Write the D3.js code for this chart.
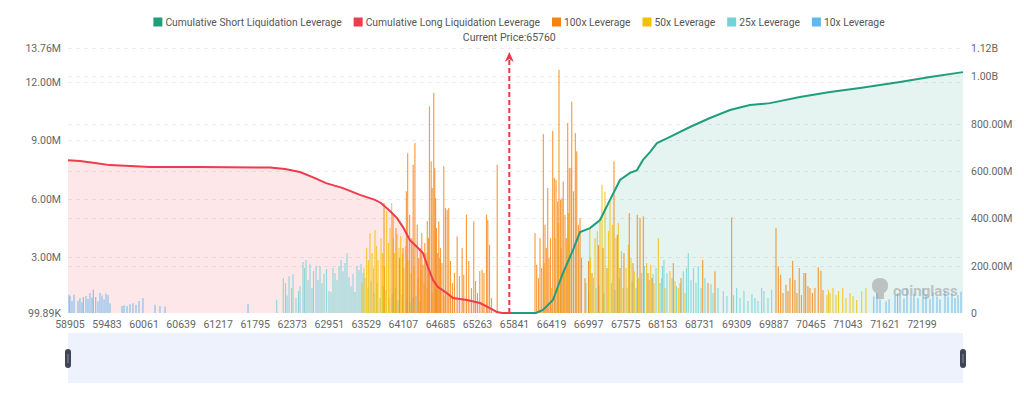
<!DOCTYPE html>
<html><head><meta charset="utf-8">
<script src="https://cdn.jsdelivr.net/npm/d3@7/dist/d3.min.js"></script>
<style>body{margin:0;background:#fff;}svg{display:block;font-family:Roboto,"Noto Sans",sans-serif;}</style>
</head><body><svg id="chart" width="1024" height="401"></svg>
<script>
// ---------- DATA ----------
const xTickLabels = [58905,59483,60061,60639,61217,61795,62373,62951,63529,64107,64685,65263,65841,66419,66997,67575,68153,68731,69309,69887,70465,71043,71621,72199];
const priceDomain = [58874, 72839];
const currentPrice = 65760;
const leftTicks = [3, 6, 9, 12];          // millions
const leftMin = 0.09989, leftMax = 13.76; // millions
const rightTicks = [0, 200, 400, 600, 800, 1000]; // millions
const rightMax = 1120;
const seriesNames = ["Cumulative Short Liquidation Leverage","Cumulative Long Liquidation Leverage","100x Leverage","50x Leverage","25x Leverage","10x Leverage"];
const seriesColors = ["#1f9e7d","#ef3b4c","#f5830f","#f5c000","#72d3d6","#66b6ee"];

// bars: [price, value in millions]
const lev10x = [[58890,0.94],[58905,0.87],[58936,0.62],[58968,0.95],[59030,0.63],[59061,0.77],[59092,0.55],[59113,0.82],[59155,0.87],[59186,0.72],[59217,1.03],[59248,0.80],[59269,1.2],[59306,0.82],[59342,0.6],[59373,1.03],[59404,0.90],[59436,0.7],[59467,1.0],[59498,0.92],[59529,0.5],[59717,0.36],[59748,0.40],[59795,0.36],[59841,0.45],[59888,0.5],[59935,0.42],[59982,0.62],[60044,0.77],[60232,0.42],[60309,0.36],[60388,0.33],[61683,0.46],
 [71446,0.85],[71497,1.03],[71544,0.7],[71638,0.6],[71685,0.7],[71778,0.92],[71818,1.0],[71856,1.2],[71918,0.75],[71965,1.29],[72027,0.87],[72074,1.0],[72137,0.77],[72215,1.29],[72262,0.95],[72324,0.72],[72371,1.05],[72433,0.85],[72480,0.7],[72558,1.13],[72605,0.85],[72667,1.0],[72714,0.77],[72761,0.92],[72808,1.1]];
const lev25x = [[62130,0.68],[62233,1.80],[62268,1.54],[62291,0.9],[62323,1.9],[62362,1.29],[62385,2.0],[62432,0.77],[62471,1.13],[62494,1.39],[62541,2.63],[62564,2.32],[62588,2.73],[62619,1.70],[62650,2.52],[62681,1.29],[62705,2.16],[62744,2.42],[62775,1.70],[62806,2.42],[62837,1.54],[62868,2.01],[62907,2.27],[62946,1.13],[62978,1.08],[63009,2.32],[63040,2.06],[63071,1.70],[63103,2.42],[63134,2.73],[63165,2.16],[63196,2.57],[63227,3.09],[63259,1.85],[63290,1.39],[63321,2.01],[63352,1.08],[63383,2.42],[63415,2.21],[63446,2.52],[63477,2.06],[63508,1.80],[63555,1.29],[63602,1.65],[63649,1.03],[63696,1.54],[63742,0.77],[63789,1.39],[63836,1.18],[63883,0.82],[63930,0.97],[63977,1.29],[64024,0.67],[64086,0.92],[64148,0.77],[64210,0.51],[64257,0.8],[64304,0.9],[64366,0.6],
 [66956,1.54],[67003,1.03],[67112,1.29],[67159,1.44],[67237,1.03],[67354,1.54],[67409,1.18],[67471,1.8],[67596,1.29],[67674,1.65],[67737,1.29],[67822,2.06],[67869,2.42],[67945,1.70],[68002,2.01],[68049,2.32],[68111,1.54],[68150,2.42],[68173,2.73],[68220,2.06],[68298,1.8],[68368,1.39],[68423,1.54],[68475,2.15],[68525,2.32],[68553,3.09],[68594,1.70],[68634,2.32],[68673,1.54],[68709,2.42],[68751,1.29],[68813,1.8],[68907,1.49],[68938,1.03],[69016,1.29],[69099,1.13],[69156,0.87],[69258,0.92],[69307,1.29],[69359,0.77],[69421,1.13],[69484,0.62],[69546,0.97],[69593,0.77],[69640,0.62],[69697,1.29],[69733,1.13],[69796,0.77],[69853,1.2]];
const lev50x = [[63461,1.54],[63492,2.32],[63534,3.35],[63562,2.73],[63586,4.12],[63617,3.09],[63640,2.32],[63664,4.28],[63688,3.45],[63711,2.73],[63758,3.86],[63781,3.09],[63812,2.42],[63846,5.25],[63874,3.61],[63898,4.38],[63924,5.67],[63952,3.86],[63969,3.09],[64008,4.07],[64039,3.35],[64065,3.97],[64093,3.04],[64117,2.32],[64140,3.45],[64179,2.73],[64226,2.06],[64273,2.42],[64335,1.80],[64382,2.21],[64428,1.54],[64475,1.29],[64553,1.03],[64631,1.18],[64740,0.87],
 [66305,2.57],[66418,1.29],[66477,3.86],[66524,4.64],[66571,3.35],[66618,2.32],[66684,5.15],[67015,4.38],[67024,2.83],[67074,1.8],[67097,3.86],[67133,4.21],[67175,4.72],[67206,6.61],[67253,6.27],[67308,4.22],[67331,5.75],[67367,4.55],[67424,3.86],[67461,4.64],[67510,3.19],[67534,1.29],[67581,2.32],[67617,3.52],[67659,2.83],[67711,2.15],[67776,1.8],[67903,2.57],[67966,2.49],[68018,1.54],[68085,3.86],[68135,1.8],[68189,1.29],[68267,2.16],[68345,1.65],[68397,1.29],[68501,1.03],
 [70716,0.92],[70740,1.18],[70763,1.03],[70810,1.29],[70857,0.92],[70896,1.13],[70962,1.29],[71013,0.77],[71076,1.03],[71123,0.87],[71180,0.67],[71258,1.12],[71325,1.29]];
const lev100x = [[63805,5.67],[63945,5.06],[63992,4.38],[64047,2.83],[64101,3.35],[64153,6.27],[64174,8.24],[64205,5.06],[64237,3.86],[64260,7.64],[64287,8.76],[64323,4.55],[64346,2.83],[64371,3.35],[64394,4.12],[64413,2.49],[64441,3.61],[64457,3.09],[64480,4.74],[64498,3.86],[64514,10.65],[64541,7.82],[64556,6.44],[64581,11.34],[64597,7.47],[64610,5.92],[64623,4.38],[64643,3.09],[64659,4.72],[64675,2.83],[64686,3.35],[64709,2.57],[64737,7.56],[64764,5.41],[64790,5.32],[64815,5.41],[64842,2.68],[64873,1.54],[64904,2.06],[64946,3.95],[64982,1.9],[65024,3.35],[65049,1.97],[65091,5.06],[65127,2.68],[65169,1.29],[65205,4.72],[65232,1.65],[65263,1.03],[65299,2.16],[65336,2.23],[65365,2.06],[65404,5.06],[65424,4.8],[65451,3.52],[65482,0.77],[65571,7.64],
 [66161,4.12],[66187,2.49],[66215,1.8],[66239,3.86],[66265,2.32],[66291,9.22],[66317,4.55],[66337,3.35],[66359,6.44],[66379,2.83],[66403,3.86],[66437,9.39],[66462,6.96],[66489,6.87],[66515,5.75],[66535,12.54],[66559,5.84],[66582,5.92],[66602,6.78],[66629,5.06],[66649,3.86],[66671,9.79],[66696,7.47],[66723,7.47],[66734,10.9],[66762,6.27],[66790,9.28],[66812,8.33],[66837,4.55],[66863,4.89],[66886,2.83],[66941,1.8],[66996,2.68],[67050,2.06],[67152,3.5],[67222,3.35],[67284,2.32],[67393,7.82],[67445,4.03],[67487,2.32],[67549,3.09],[67632,5.15],[67690,2.57],[67757,5.06],[67799,4.89],[67851,4.98],[67924,2.06],[67987,1.8],[68319,2.57],[68439,1.8],[68777,2.74],[68860,1.54],[68969,2.15],[69229,4.93],
 [69921,4.38],[69957,2.4],[69994,1.97],[70030,1.03],[70077,1.46],[70108,1.13],[70139,1.8],[70181,2.69],[70217,1.71],[70248,1.03],[70284,2.32],[70318,0.92],[70357,2.06],[70384,2.06],[70420,1.39],[70451,1.29],[70490,1.03],[70529,1.29],[70581,2.35],[70623,2.18],[70654,1.18]];

// cumulative lines: [price, value in millions]
const cumLong = [[58874,646],[59061,642],[59295,634],[59529,625],[59841,621],[60153,617],[60934,617],[62026,615],[62260,609],[62494,596],[62728,570],[62900,549],[63165,528],[63430,499],[63664,478],[63758,465],[63898,431],[64008,401],[64101,363],[64210,308],[64320,279],[64413,253],[64491,194],[64569,139],[64647,110],[64787,84],[64881,63],[65100,55],[65302,42],[65458,21],[65568,4],[65646,0],[65786,0]];
const cumShort = [[65786,0],[66176,0],[66285,13],[66441,55],[66597,169],[66753,266],[66863,342],[67019,359],[67175,393],[67331,478],[67487,562],[67643,592],[67752,604],[67846,647],[67955,680],[68064,718],[68267,744],[68579,786],[68891,824],[69203,858],[69515,879],[69827,887],[70295,913],[70763,934],[71232,951],[71856,976],[72324,997],[72839,1018]];

// ---------- DRAW ----------
const svg = d3.select("#chart");
const L = 68, R = 963, T = 48, B = 313;
const x = d3.scaleLinear().domain(priceDomain).range([L, R]);
const yL = d3.scaleLinear().domain([leftMin, leftMax]).range([B, T]);
const yR = d3.scaleLinear().domain([0, rightMax]).range([B, T]);

// gridlines
const grid = svg.append("g");
const gridYs = leftTicks.map(v => yL(v)).concat(rightTicks.filter(v => v > 0).map(v => yR(v)), [T]);
grid.selectAll("line").data(gridYs).join("line")
  .attr("x1", L).attr("x2", R).attr("y1", d => Math.round(d) + 0.5).attr("y2", d => Math.round(d) + 0.5)
  .attr("stroke", "#ececec").attr("stroke-dasharray", "4,4");

// areas
const areaL = d3.area().x(d => x(d[0])).y0(B).y1(d => yR(d[1]));
svg.append("path").datum(cumLong).attr("d", areaL).attr("fill", "rgba(239,59,76,0.12)");
svg.append("path").datum(cumShort).attr("d", areaL).attr("fill", "rgba(31,158,125,0.11)");

// bars (stacked by price)
const bw = 1.15;
const base = new Map();
const barSeries = [[lev10x, seriesColors[5]], [lev25x, seriesColors[4]], [lev50x, seriesColors[3]], [lev100x, seriesColors[2]]];
const barsG = svg.append("g");
barSeries.forEach(([data, color]) => {
  const rows = data.map(([p, v]) => { const b = base.get(p) || 0; base.set(p, b + v); return {p, b, t: b + v}; });
  barsG.append("g").selectAll("rect").data(rows).join("rect")
    .attr("x", d => x(d.p) - bw / 2).attr("width", bw)
    .attr("y", d => yL(leftMin + d.t)).attr("height", d => yL(leftMin + d.b) - yL(leftMin + d.t))
    .attr("fill", color).attr("fill-opacity", 0.8);
});

// lines
const line = d3.line().x(d => x(d[0])).y(d => yR(d[1]));
svg.append("path").datum(cumLong).attr("d", line).attr("fill", "none").attr("stroke", seriesColors[1]).attr("stroke-width", 2);
svg.append("path").datum(cumShort).attr("d", line).attr("fill", "none").attr("stroke", seriesColors[0]).attr("stroke-width", 2);

// current price marker
const cx = x(currentPrice);
svg.append("line").attr("x1", cx).attr("x2", cx).attr("y1", B).attr("y2", 60)
  .attr("stroke", "#e8394a").attr("stroke-width", 2).attr("stroke-dasharray", "5,3");
svg.append("path").attr("d", `M${cx - 4.5},${62} L${cx},${52} L${cx + 4.5},${62} L${cx},${59} Z`).attr("fill", "#e8394a");
svg.append("text").attr("x", cx).attr("y", 41).attr("text-anchor", "middle")
  .attr("font-size", 10.5).attr("fill", "#555").text("Current Price:" + currentPrice);

// watermark
const wm = svg.append("g").attr("opacity", 0.55);
wm.append("path").attr("d", "M872,286 q0,-8 8,-8 q8,0 8,8 q0,5 -4,7 l0,6 l-8,0 l0,-6 q-4,-2 -4,-7 Z").attr("fill", "#9a9a9a");
wm.append("text").attr("x", 893).attr("y", 296).attr("font-size", 15).attr("font-weight", 700).attr("fill", "#9a9a9a").text("coinglass");

// axes
const fmtM = v => v.toFixed(2) + "M";
const axL = svg.append("g").attr("font-size", 10.5).attr("fill", "#666").attr("text-anchor", "end");
const leftLabels = [[leftMin, "99.89K"]].concat(leftTicks.map(v => [v, fmtM(v)]), [[leftMax, fmtM(leftMax)]]);
axL.selectAll("text").data(leftLabels).join("text").attr("x", 61).attr("y", d => yL(d[0]) + 4).text(d => d[1]);
const fmtR = v => v === 0 ? "0" : v >= 1000 ? (v / 1000).toFixed(2) + "B" : v.toFixed(2) + "M";
const axR = svg.append("g").attr("font-size", 10.5).attr("fill", "#666").attr("text-anchor", "start");
axR.selectAll("text").data(rightTicks.concat([rightMax])).join("text").attr("x", 971).attr("y", d => yR(d) + 4).text(fmtR);
const axX = svg.append("g").attr("font-size", 10.5).attr("fill", "#666").attr("text-anchor", "middle");
axX.selectAll("text").data(xTickLabels).join("text").attr("x", d => x(d)).attr("y", 328).text(d => d);

// legend
const leg = svg.append("g").attr("font-size", 10.3).attr("fill", "#555");
const items = leg.selectAll("g").data(seriesNames).join("g");
items.append("rect").attr("width", 9).attr("height", 9).attr("y", 17.5).attr("fill", (d, i) => seriesColors[i]);
items.append("text").attr("x", 12).attr("y", 26).text(d => d);
let widths = [];
items.each(function () { widths.push(this.querySelector("text").getComputedTextLength() + 12); });
const gap = 12;
const total = d3.sum(widths) + gap * (widths.length - 1);
let cur = 519 - total / 2;
items.attr("transform", (d, i) => { const t = `translate(${cur},0)`; cur += widths[i] + gap; return t; });

// slider
svg.append("rect").attr("x", L).attr("y", 333).attr("width", R - L).attr("height", 50).attr("fill", "#eef2fd");
[L, R].forEach(hx => {
  svg.append("rect").attr("x", hx - 3).attr("y", 349).attr("width", 6).attr("height", 19).attr("rx", 3).attr("fill", "#3f4556");
  svg.append("line").attr("x1", hx).attr("x2", hx).attr("y1", 354).attr("y2", 363).attr("stroke", "#8a90a0").attr("stroke-width", 1);
});
</script></body></html>
